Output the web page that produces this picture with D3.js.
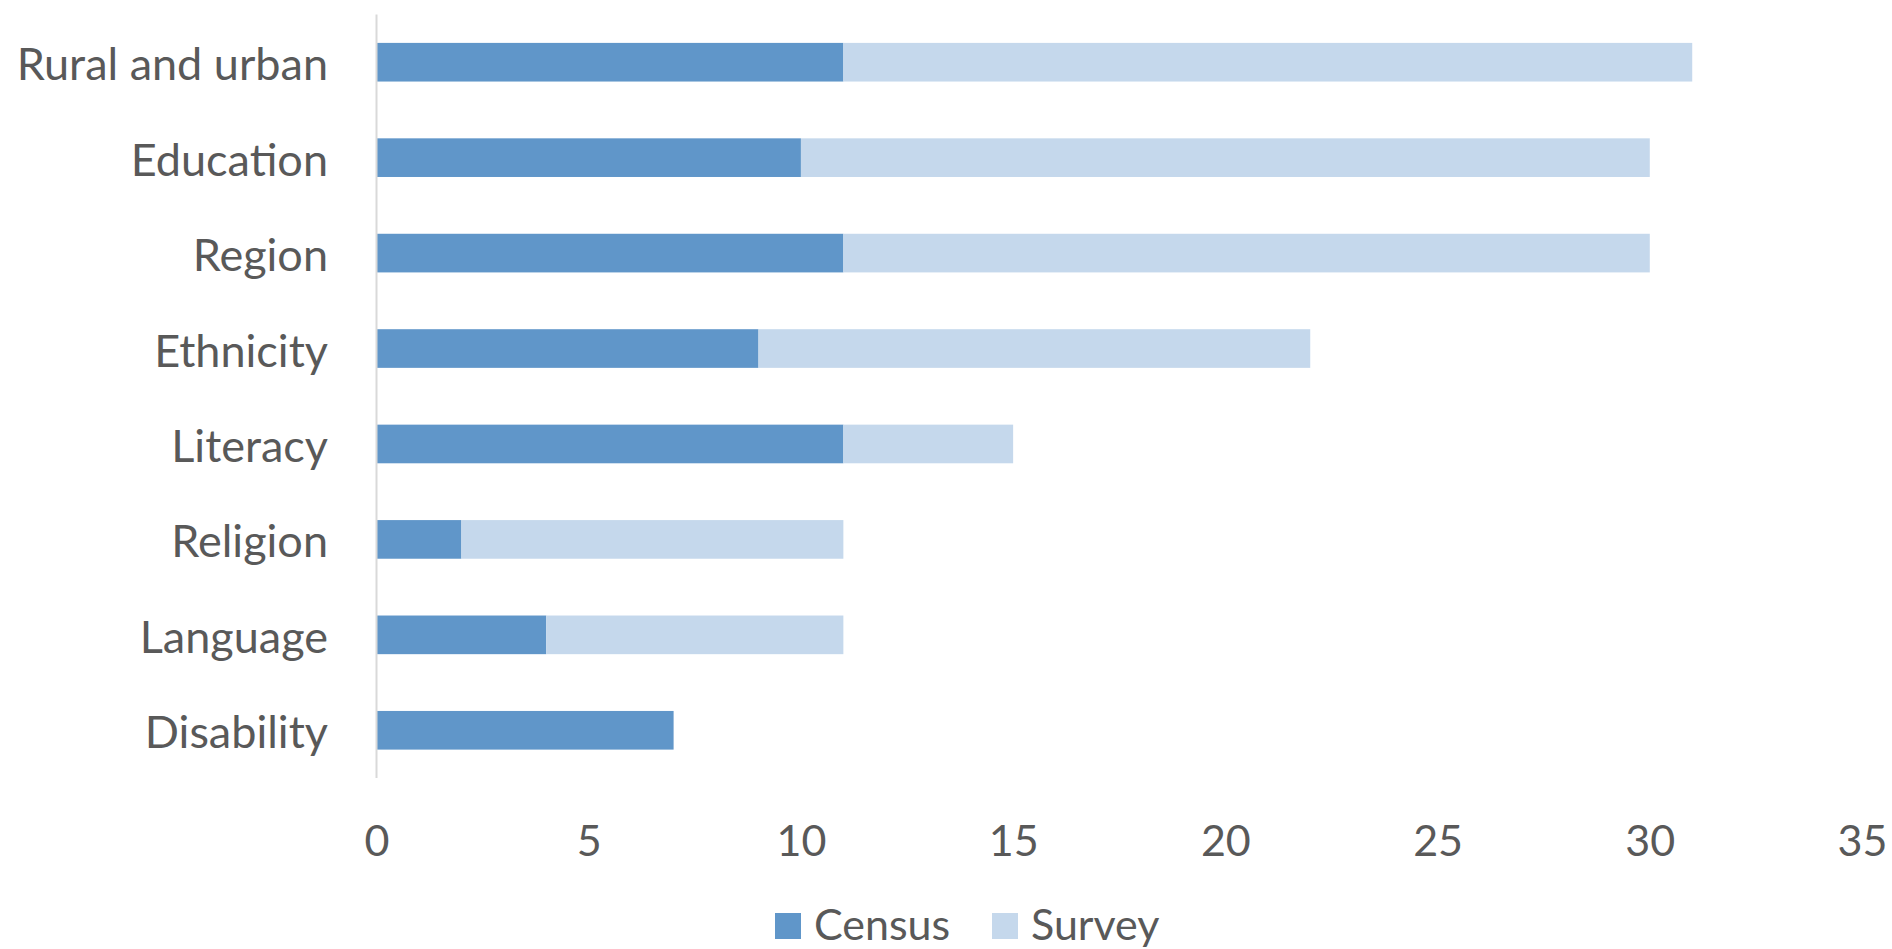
<!DOCTYPE html>
<html>
<head>
<meta charset="utf-8">
<script src="https://cdnjs.cloudflare.com/ajax/libs/d3/7.8.5/d3.min.js"></script>
<style>
  body { margin: 0; background: #fff; }
  text { font-family: Lato, "Open Sans", sans-serif; fill: #595959; }
</style>
</head>
<body>
<div id="chart"></div>
<script>
// categories top to bottom
var categories = ["Rural and urban", "Education", "Region", "Ethnicity", "Literacy", "Religion", "Language", "Disability"];
var census = [11, 10, 11, 9, 11, 2, 4, 7];
var survey = [20, 20, 19, 13, 4, 9, 7, 0];
var seriesNames = ["Census", "Survey"];
var seriesColors = ["#6096c9", "#c5d8ec"];
var xTicks = [0, 5, 10, 15, 20, 25, 30, 35];

var width = 1892, height = 949;
var margin = {left: 376.5, right: 30, top: 14.5, bottom: 171};

var svg = d3.select("#chart").append("svg")
  .attr("width", width)
  .attr("height", height);

var x = d3.scaleLinear().domain([0, 35]).range([margin.left, 1862]);
var y = d3.scaleBand().domain(categories)
  .range([margin.top, height - margin.bottom])
  .paddingInner(0.595).paddingOuter(0.2975);

var rows = categories.map(function(c, i) {
  return {cat: c, Census: census[i], Survey: survey[i]};
});
var stacked = d3.stack().keys(seriesNames)(rows);

svg.selectAll("g.series")
  .data(stacked)
  .enter().append("g")
    .attr("class", "series")
    .attr("fill", function(d, i) { return seriesColors[i]; })
  .selectAll("rect")
  .data(function(d) { return d; })
  .enter().append("rect")
    .attr("x", function(d) { return x(d[0]); })
    .attr("y", function(d) { return y(d.data.cat); })
    .attr("width", function(d) { return x(d[1]) - x(d[0]); })
    .attr("height", y.bandwidth());

// vertical axis line
svg.append("line")
  .attr("x1", x(0)).attr("x2", x(0))
  .attr("y1", margin.top).attr("y2", height - margin.bottom)
  .attr("stroke", "#d9d9d9").attr("stroke-width", 2);

// category labels
svg.selectAll("text.cat")
  .data(categories)
  .enter().append("text")
    .attr("class", "cat")
    .attr("x", 328)
    .attr("y", function(d) { return y(d) + y.bandwidth() / 2 + 18; })
    .attr("text-anchor", "end")
    .style("font-size", "45px")
    .text(function(d) { return d; });

// x axis tick labels
var xAxis = d3.axisBottom(x).tickValues(xTicks).tickSize(0).tickPadding(0);
var gx = svg.append("g")
  .attr("transform", "translate(0," + 825 + ")")
  .call(xAxis);
gx.select(".domain").remove();
gx.selectAll("text")
  .attr("dy", "0.72em")
  .style("font-size", "43px")
  .style("font-family", "Lato, 'Open Sans', sans-serif")
  .attr("fill", "#595959");

// legend
var legendX = [775, 992];
var leg = svg.selectAll("g.legend")
  .data(seriesNames)
  .enter().append("g")
    .attr("class", "legend")
    .attr("transform", function(d, i) { return "translate(" + legendX[i] + ",913)"; });
leg.append("rect")
  .attr("width", 26).attr("height", 26)
  .attr("fill", function(d, i) { return seriesColors[i]; });
leg.append("text")
  .attr("x", 39).attr("y", 27)
  .style("font-size", "43px")
  .text(function(d) { return d; });
</script>
</body>
</html>
